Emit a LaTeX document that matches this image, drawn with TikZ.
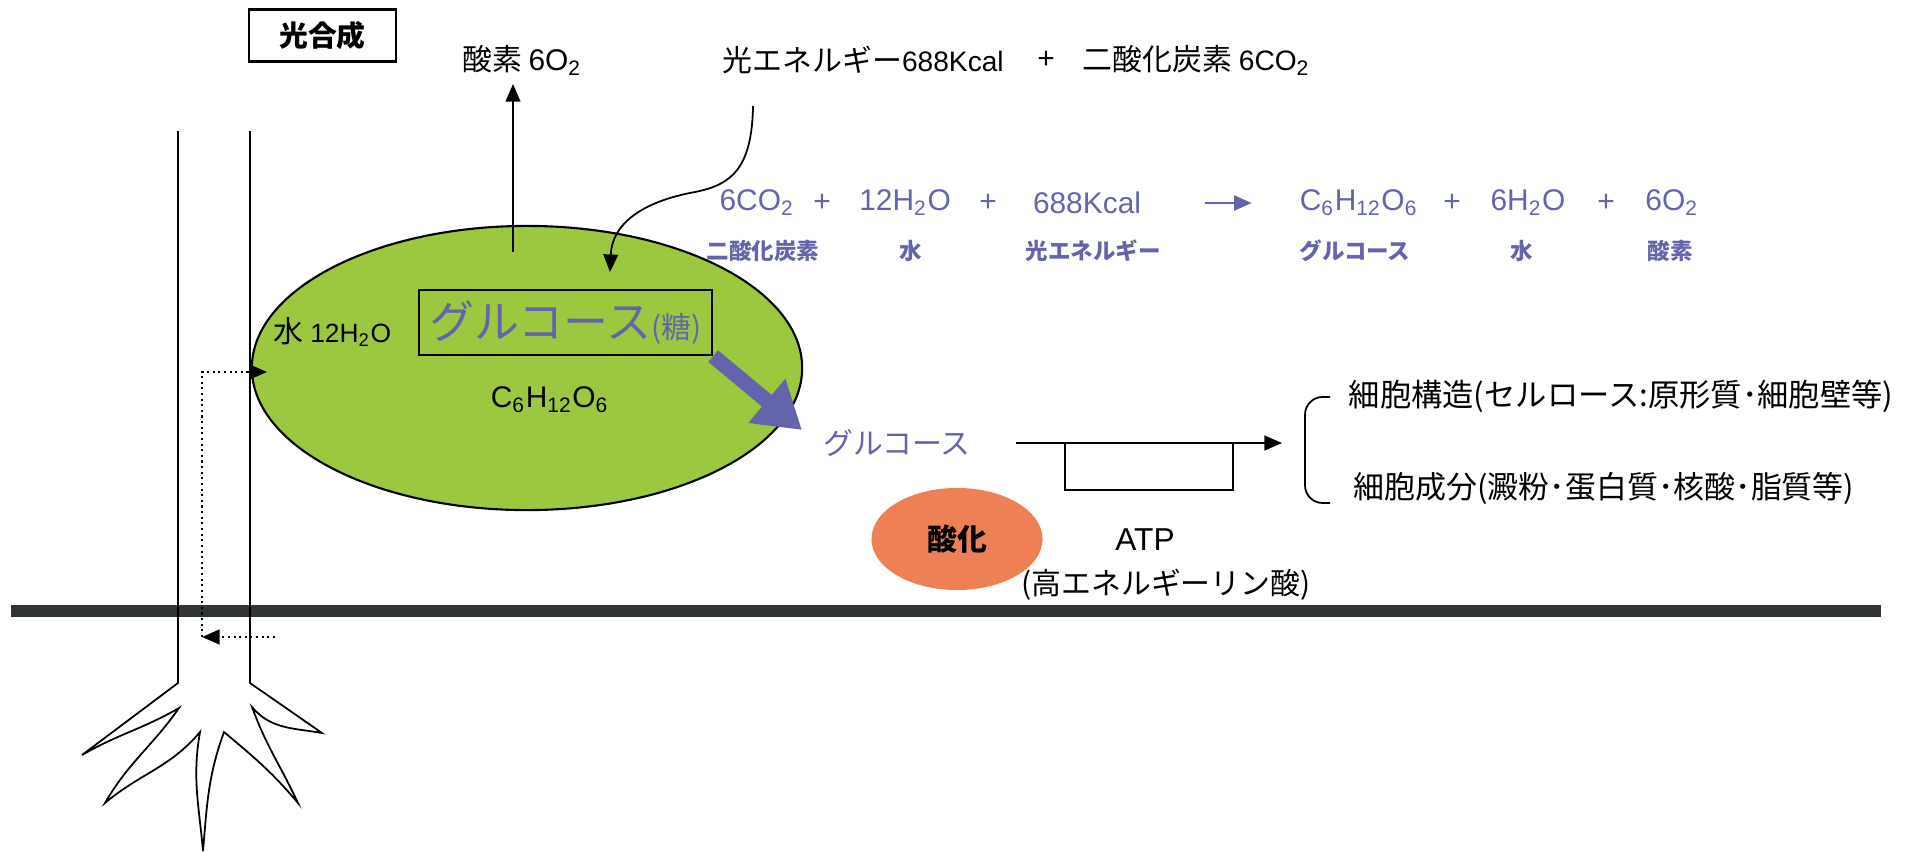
\documentclass[tikz,border=0pt]{standalone}
\usepackage{fontspec}
\setmainfont{Noto Sans CJK JP}
\newfontfamily\lat{Liberation Sans}
\usetikzlibrary{arrows.meta,shapes.geometric,positioning}

\definecolor{leafgreen}{RGB}{156,200,64}
\definecolor{sugarblue}{RGB}{100,100,172}
\definecolor{burnorange}{RGB}{238,128,86}
\definecolor{soil}{RGB}{50,54,50}

\tikzset{
  txt/.style={inner sep=0pt, font=\fontsize{8.5}{10}\selectfont},
  eqn/.style={inner sep=0pt, text=sugarblue, font=\lat\fontsize{8.5}{10}\selectfont},
  eqlab/.style={inner sep=0pt, text=sugarblue, font=\bfseries\fontsize{6.4}{8}\selectfont},
  arr/.style={-{Triangle[length=5pt,width=4.2pt]}, line width=0.5pt},
  dotarr/.style={densely dotted, line width=0.6pt},
  plain/.style={line width=0.5pt},
}

\begin{document}
\begin{tikzpicture}[x=0.01cm,y=-0.01cm]
\useasboundingbox (0,0) rectangle (1928,851);

% ground line
\fill[soil] (11,605) rectangle (1881,617);

% stem and roots
\draw[plain] (178,131) -- (178,683) -- (82,755)
  to[out=30,in=-150] (179,708)
  to[out=-125,in=60] (105,803)
  to[out=40,in=-130] (200,732)
  to[out=-100,in=95] (203,851)
  to[out=85,in=-110] (224,732)
  to[out=-40,in=130] (298,803)
  to[out=115,in=-70] (252,707)
  to[out=-50,in=170] (322,733)
  -- (250,683) -- (250,131);

% title
\node[draw, line width=0.8pt, minimum width=1.47cm, minimum height=0.51cm,
      font=\bfseries\fontsize{8.2}{10}\selectfont] (title) at (322.5,35.5) {光合成};

% leaf
\node[ellipse, draw, line width=0.6pt, fill=leafgreen, minimum width=5.5cm,
      minimum height=2.84cm, inner sep=0pt] (leaf) at (527,368) {};
\node[draw, line width=0.6pt, minimum width=2.93cm, minimum height=0.65cm,
      inner sep=0pt, text=sugarblue] (sugar) at (565.5,322.5)
  {\fontsize{12.8}{14}\selectfont グルコース\fontsize{8.5}{10}\selectfont(糖)};
\node[txt, anchor=west] (water) at (273,332)
  {水 {\lat\fontsize{7.5}{9}\selectfont 12H\textsubscript{2}O}};
\node[txt, font=\lat\fontsize{8.5}{10}\selectfont] (formula) at (550,400)
  {C\textsubscript{6}H\textsubscript{12}O\textsubscript{6}};

% oxygen out
\node[txt] (oxy) at (522,60) {酸素 {\lat 6O\textsubscript{2}}};
\coordinate (oxyfoot) at (513,252);
\coordinate (oxytip) at (513,84);
\draw[arr] (oxyfoot) -- (oxytip);

% light and carbon dioxide in
\node[txt, anchor=west] (light) at (722,60)
  {光エネルギー{\lat\fontsize{8}{9}\selectfont 688Kcal}};
\node[txt, font=\lat\fontsize{8.5}{10}\selectfont] (plus) at (1046,60) {+};
\node[txt, anchor=west] (co2) at (1082,60)
  {二酸化炭素 {\lat\fontsize{8}{9}\selectfont 6CO\textsubscript{2}}};
\coordinate (lightfoot) at (753,106);
\coordinate (bend) at (695,192);
\coordinate (intake) at (610,272);
\draw[arr] (lightfoot) .. controls (752,170) and (730,185) .. (bend)
  .. controls (640,202) and (612,225) .. (intake);

% water route
\coordinate (soak) at (275,637);
\coordinate (xylem) at (202,637);
\coordinate (xyltop) at (202,372);
\coordinate (leafin) at (267,372);
\draw[dotarr, -{Triangle[length=5pt,width=4.2pt]}] (soak) -- (xylem);
\draw[dotarr, -{Triangle[length=5pt,width=4.2pt]}] (xylem) -- (xyltop) -- (leafin);

% equation
\foreach \x/\f [count=\i] in {757/6CO\textsubscript{2}, 905/12H\textsubscript{2}O,
    1087/688Kcal, 1359/C\textsubscript{6}H\textsubscript{12}O\textsubscript{6},
    1528/6H\textsubscript{2}O, 1672/6O\textsubscript{2}}
  \node[eqn] (term\i) at (\x,203) {\f};
\foreach \x [count=\i] in {822,988,1452,1606}
  \node[eqn] (plus\i) at (\x,203) {+};
\draw[arr, sugarblue, line width=0.8pt, shorten <=18pt, shorten >=13.5pt]
  (term3.east) -- (term3.east -| term4.west);
\foreach \x/\t [count=\i] in {763/二酸化炭素, 911/水, 1093/光エネルギー,
    1355/グルコース, 1522/水, 1670/酸素}
  \node[eqlab] (name\i) at (\x,251) {\t};

% glucose leaves the leaf
\coordinate (sugartip) at (802,430);
\draw[sugarblue, line width=4.3pt, -{Triangle[length=13pt,width=15.5pt]}]
  (sugar.south east) -- (sugartip);
\node[txt, text=sugarblue] (glu) at (897,443) {グルコース};

% respiration loop
\coordinate (flowout) at (1282,443);
\coordinate (loopin) at (1065,443);
\coordinate (loopout) at (1233,443);
\draw[arr, shorten <=12.8pt] (glu.east) -- (flowout);
\draw[plain] (loopin) -- ++(0,47) -| (loopout);
\node[ellipse, fill=burnorange, minimum width=1.71cm, minimum height=1.02cm,
      inner sep=0pt, font=\bfseries\fontsize{8.5}{10}\selectfont] (burn) at (957,539) {酸化};
\node[txt, font=\lat\fontsize{9}{10}\selectfont] (atp) at (1145,540) {ATP};
\node[txt] (hep) at (1166,585) {(高エネルギーリン酸)};

% uses of glucose
\coordinate (bracetop) at (1330,397);
\coordinate (bracebar) at (1305,450);
\coordinate (bracebot) at (1330,503);
\draw[plain, rounded corners=5pt] (bracetop) -| (bracebar) |- (bracebot);
\node[txt, anchor=west, font=\fontsize{8.9}{10}\selectfont] (struct) at (1348,396)
  {細胞構造(セルロース:原形質･細胞壁等)};
\node[txt, anchor=west, font=\fontsize{8.8}{10}\selectfont] (parts) at (1353,488)
  {細胞成分(澱粉･蛋白質･核酸･脂質等)};

\end{tikzpicture}
\end{document}
